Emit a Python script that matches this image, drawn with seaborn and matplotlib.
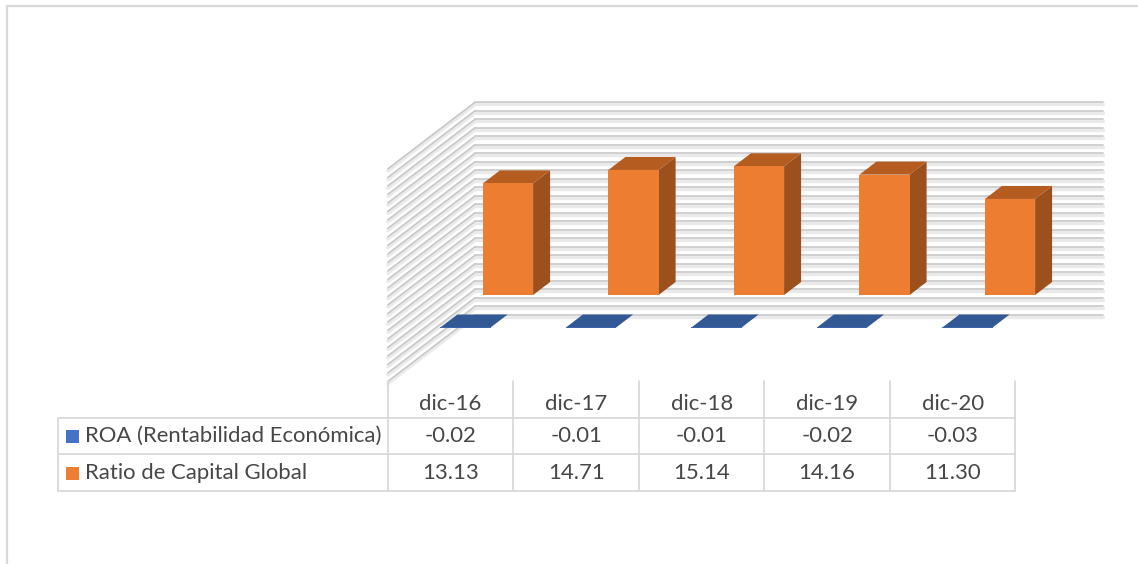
import matplotlib
matplotlib.use("Agg")
import matplotlib.pyplot as plt
import seaborn as sns
from matplotlib.patches import Polygon, Rectangle

# ---- data -------------------------------------------------------------
periods = ["dic-16", "dic-17", "dic-18", "dic-19", "dic-20"]
roa = [-0.02, -0.01, -0.01, -0.02, -0.03]
capital_ratio = [13.13, 14.71, 15.14, 14.16, 11.30]
series_names = ["ROA (Rentabilidad Económica)", "Ratio de Capital Global"]
value_ticks = list(range(-5, 21))          # value axis from -5 to 20, step 1

# ---- colours ------------------------------------------------------------
ORANGE, ORANGE_SIDE, ORANGE_TOP = "#ED7D31", "#9B501D", "#B55D21"
BLUE, BLUE_TOP = "#4472C4", "#335995"
GRID, GRID_SOFT = "#c8c8c8", "#eaeaea"
TABLE_LINE, TEXT = "#d9d9d9", "#474747"

# ---- layout of the pseudo-3D scene (pixels) ------------------------------
W, H = 1138, 564
CAT_PX, VAL_PX = 125.5, 8.5        # pixels per category / per value unit
ORIGIN = (508, 295)                 # category 0, value 0 on the back series plane
DX, DY = 42.5 / CAT_PX, 32.5 / VAL_PX   # screen shift of one depth row
FLOOR_FRONT, ROA_FRONT, CAP_FRONT, BACK_WALL = -1.35, -1.0, 0.0, 0.7
BAR_W, BAR_D = 0.4, 0.4

sns.set_theme(style="white")
plt.rcParams["font.family"] = ["Lato", "DejaVu Sans"]

fig = plt.figure(figsize=(W / 100, H / 100), dpi=100)
ax = fig.add_axes([0, 0, 1, 1])


def px(x, y):
    """Figure pixel position -> data coordinates of the scene axes."""
    return (x - ORIGIN[0]) / CAT_PX, (ORIGIN[1] - y) / VAL_PX


def proj(c, v, d):
    """Oblique projection of (category, value, depth) onto the axes."""
    return c + d * DX, v + d * DY


# ---- back series: Ratio de Capital Global (front faces via seaborn) -----
sns.barplot(x=periods, y=capital_ratio, color=ORANGE, saturation=1,
            width=BAR_W, ax=ax, zorder=4, linewidth=0)
for patch in list(ax.patches):
    x0, w, h = patch.get_x(), patch.get_width(), patch.get_height()
    x1 = x0 + w
    side = [proj(x1, 0, CAP_FRONT), proj(x1, 0, CAP_FRONT + BAR_D),
            proj(x1, h, CAP_FRONT + BAR_D), proj(x1, h, CAP_FRONT)]
    top = [proj(x0, h, CAP_FRONT), proj(x1, h, CAP_FRONT),
           proj(x1, h, CAP_FRONT + BAR_D), proj(x0, h, CAP_FRONT + BAR_D)]
    ax.add_patch(Polygon(side, closed=True, facecolor=ORANGE_SIDE,
                         edgecolor="none", zorder=3))
    ax.add_patch(Polygon(top, closed=True, facecolor=ORANGE_TOP,
                         edgecolor="none", zorder=3))

# ---- front series: ROA --------------------------------------------------
positions = list(range(len(periods)))
roa_x = [p + ROA_FRONT * DX for p in positions]
ax.bar(roa_x, roa, width=BAR_W, bottom=ROA_FRONT * DY, color=BLUE,
       linewidth=0, zorder=6)
for p, v in zip(positions, roa):
    lvl = max(v, 0)
    top = [proj(p - BAR_W / 2, lvl, ROA_FRONT), proj(p + BAR_W / 2, lvl, ROA_FRONT),
           proj(p + BAR_W / 2, lvl, ROA_FRONT + BAR_D),
           proj(p - BAR_W / 2, lvl, ROA_FRONT + BAR_D)]
    ax.add_patch(Polygon(top, closed=True, facecolor=BLUE_TOP,
                         edgecolor="none", zorder=6))

# ---- walls: gridlines on the back wall and the left side wall -----------
c_left, c_right = -0.5, len(periods) - 0.5
soft = 2.2 / VAL_PX
for v in value_ticks:
    bx0, by0 = proj(c_left, v, BACK_WALL)
    bx1, by1 = proj(c_right, v, BACK_WALL)
    fx, fy = proj(c_left, v, FLOOR_FRONT)
    ax.plot([bx0, bx1], [by0 - soft, by1 - soft], color=GRID_SOFT, lw=2.4, zorder=1)
    ax.plot([fx, bx0], [fy - soft, by0 - soft], color=GRID_SOFT, lw=2.4, zorder=1)
    ax.plot([bx0, bx1], [by0, by1], color=GRID, lw=1.2, zorder=2)
    ax.plot([fx, bx0], [fy, by0], color=GRID, lw=1.2, zorder=2)

# ---- data table ---------------------------------------------------------
col_edges = [c - 0.5 + FLOOR_FRONT * DX for c in range(len(periods) + 1)]
col_mid = [(a + b) / 2 for a, b in zip(col_edges[:-1], col_edges[1:])]
_, table_top = proj(c_left, value_ticks[0], FLOOR_FRONT)
left_edge, _ = px(58, 0)
row_lines = [px(0, y)[1] for y in (418, 454, 491)]
header_y, row1_y, row2_y = (px(0, y)[1] for y in (404, 436, 473))

lw_t = 1.3
for xe in col_edges:
    ax.plot([xe, xe], [table_top, row_lines[-1]], color=TABLE_LINE, lw=lw_t, zorder=2)
ax.plot([left_edge, left_edge], [row_lines[0], row_lines[-1]],
        color=TABLE_LINE, lw=lw_t, zorder=2)
for yl in row_lines:
    ax.plot([left_edge, col_edges[-1]], [yl, yl], color=TABLE_LINE, lw=lw_t, zorder=2)

fs = 15.9
for xm, lab, r, k in zip(col_mid, periods, roa, capital_ratio):
    ax.text(xm, header_y, lab, ha="center", va="center", fontsize=fs, color=TEXT)
    ax.text(xm, row1_y, f"{r:.2f}", ha="center", va="center", fontsize=fs, color=TEXT)
    ax.text(xm, row2_y, f"{k:.2f}", ha="center", va="center", fontsize=fs, color=TEXT)

key_w, key_h = 13 / CAT_PX, 13 / VAL_PX
for name, col, yrow in zip(series_names, [BLUE, ORANGE], [row1_y, row2_y]):
    kx, _ = px(66, 0)
    ax.add_patch(Rectangle((kx, yrow - key_h / 2), key_w, key_h,
                           facecolor=col, edgecolor="none", zorder=3))
    ax.text(px(85, 0)[0], yrow, name, ha="left", va="center", fontsize=fs, color=TEXT)

# ---- chart frame --------------------------------------------------------
fx0, fy0 = px(7, 6)
fx1, fy1 = px(W, H)
ax.plot([fx0, fx1], [fy0, fy0], color=TABLE_LINE, lw=1.6, zorder=2)
ax.plot([fx0, fx0], [fy0, fy1], color=TABLE_LINE, lw=1.6, zorder=2)

ax.set_xlim(px(0, 0)[0], px(W, 0)[0])
ax.set_ylim(px(0, H)[1], px(0, 0)[1])
ax.set_axis_off()

fig.savefig("out.png", dpi=100, facecolor="white")
